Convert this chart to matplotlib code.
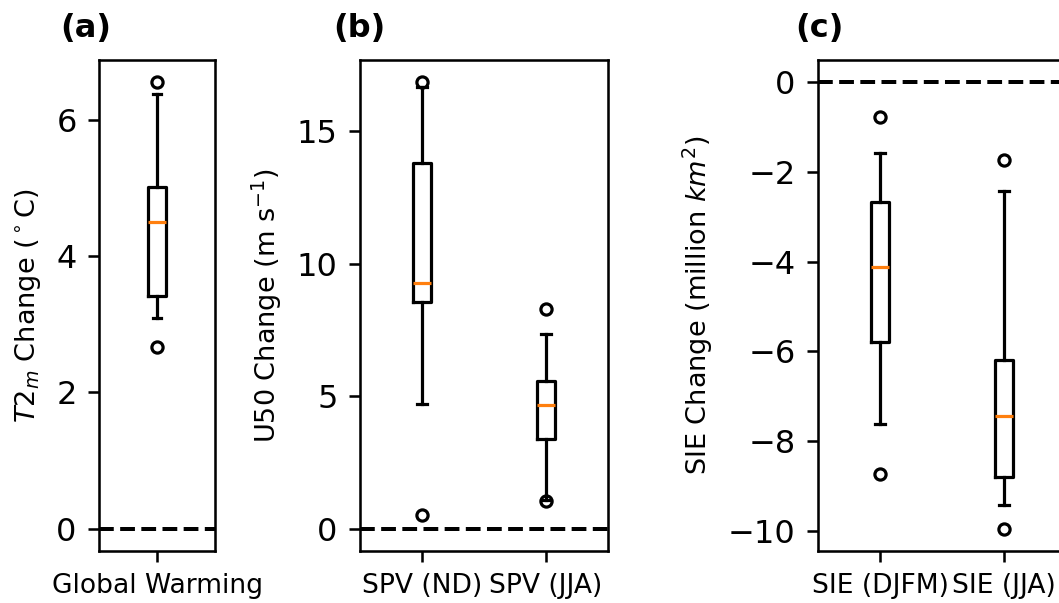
import matplotlib
matplotlib.use("Agg")
import matplotlib.pyplot as plt

# box statistics (med, q1, q3, lower whisker, upper whisker, outliers)
gw_labels = ["Global Warming"]
gw_med = [4.50]
gw_q1 = [3.41]
gw_q3 = [5.01]
gw_lo = [3.09]
gw_hi = [6.38]
gw_fliers = [[2.66, 6.55]]
gw_yticks = [0, 2, 4, 6]

spv_labels = ["SPV (ND)", "SPV (JJA)"]
spv_med = [9.28, 4.68]
spv_q1 = [8.57, 3.38]
spv_q3 = [13.80, 5.58]
spv_lo = [4.70, 1.10]
spv_hi = [16.69, 7.35]
spv_fliers = [[0.53, 16.85], [1.03, 8.29]]
spv_yticks = [0, 5, 10, 15]

sie_labels = ["SIE (DJFM)", "SIE (JJA)"]
sie_med = [-4.12, -7.43]
sie_q1 = [-5.78, -8.79]
sie_q3 = [-2.66, -6.20]
sie_lo = [-7.62, -9.43]
sie_hi = [-1.57, -2.43]
sie_fliers = [[-8.74, -0.77], [-9.95, -1.74]]
sie_yticks = [-10, -8, -6, -4, -2, 0]

panel_titles = ["(a)", "(b)", "(c)"]
ylabels = [r"$T2_m$ Change ($^\circ$C)",
           r"U50 Change (m s$^{-1}$)",
           r"SIE Change (million $km^2$)"]


def make_stats(labels, med, q1, q3, lo, hi, fliers):
    stats = []
    for i in range(len(labels)):
        stats.append(dict(label=labels[i], med=med[i], q1=q1[i], q3=q3[i],
                          whislo=lo[i], whishi=hi[i], fliers=fliers[i]))
    return stats


DPI = 230
fig = plt.figure(figsize=(1059 / DPI, 603 / DPI), dpi=DPI)

W = 1059
H = 603
bottom = (H - 551) / H
height = 491 / H
ax_a = fig.add_axes([99 / W, bottom, 116 / W, height])
ax_b = fig.add_axes([360 / W, bottom, 248 / W, height])
# panel (c) runs past the right edge, as in the cropped reference
ax_c = fig.add_axes([818 / W, bottom, 248 / W, height])

panels = [
    (ax_a, make_stats(gw_labels, gw_med, gw_q1, gw_q3, gw_lo, gw_hi, gw_fliers), gw_yticks),
    (ax_b, make_stats(spv_labels, spv_med, spv_q1, spv_q3, spv_lo, spv_hi, spv_fliers), spv_yticks),
    (ax_c, make_stats(sie_labels, sie_med, sie_q1, sie_q3, sie_lo, sie_hi, sie_fliers), sie_yticks),
]
title_x = [-0.336, -0.109, -0.093]

for k, (ax, stats, yt) in enumerate(panels):
    ax.axhline(0, color="k", linestyle="--", linewidth=1.25)
    ax.bxp(stats, flierprops=dict(marker="o", markersize=3.5,
                                  markerfacecolor="none",
                                  markeredgecolor="k"))
    ax.set_yticks(yt)
    ax.set_ylabel(ylabels[k], fontsize=8.5)
    ax.tick_params(axis="y", labelsize=10)
    ax.tick_params(axis="x", labelsize=8.3)
    ax.text(title_x[k], 1.047, panel_titles[k], transform=ax.transAxes,
            fontsize=10, fontweight="bold", ha="left", va="baseline")

fig.savefig("out.png", dpi=DPI)
